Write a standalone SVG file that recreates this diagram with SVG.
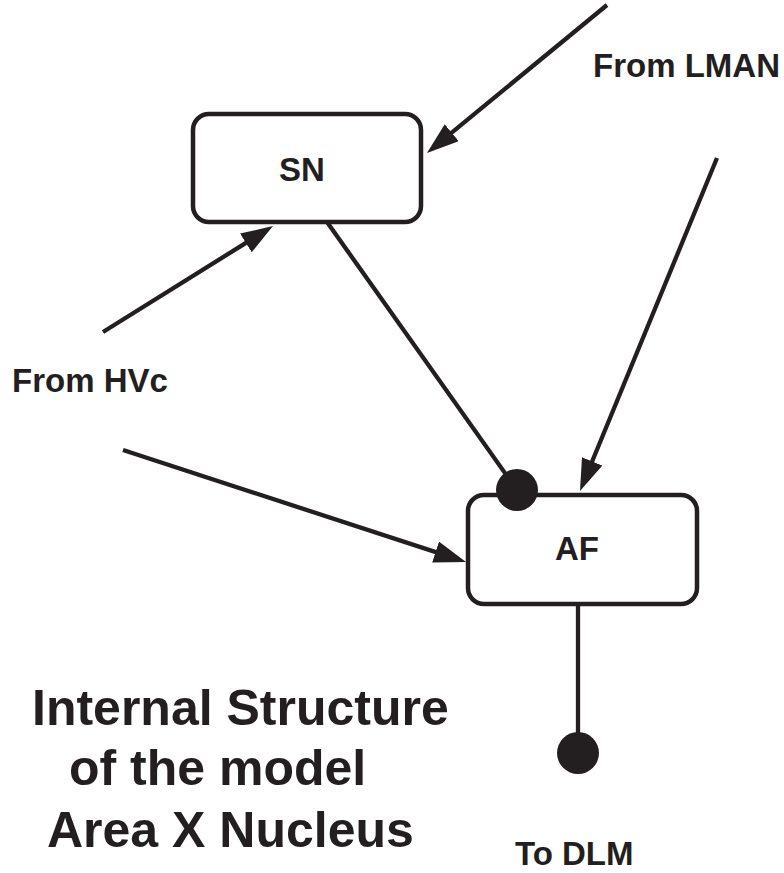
<svg xmlns="http://www.w3.org/2000/svg" width="784" height="873" viewBox="0 0 784 873">
<style>
.box{fill:#fff;stroke:#231f20;stroke-width:4.5}
.ln{stroke:#231f20;stroke-width:4.3;fill:none}
.lbl{font-family:"Liberation Sans",Arial,sans-serif;font-weight:bold;font-size:33px;fill:#231f20}
.title{font-family:"Liberation Sans",Arial,sans-serif;font-weight:bold;font-size:50px;fill:#231f20}
.dot{fill:#231f20}
</style>
<defs>
<marker id="arr" markerUnits="userSpaceOnUse" markerWidth="32" markerHeight="22" refX="22" refY="11" orient="auto" viewBox="0 0 32 22">
<path d="M0,0 L32,11 L0,22 z" fill="#231f20"/>
</marker>
</defs>
<g id="connectors">
<line class="ln" x1="607" y1="5" x2="434.7" y2="146.6" marker-end="url(#arr)"/>
<line class="ln" x1="103" y1="332" x2="264.5" y2="231.3" marker-end="url(#arr)"/>
<line class="ln" x1="717" y1="158" x2="583.8" y2="481.7" marker-end="url(#arr)"/>
<line class="ln" x1="123" y1="450" x2="456.5" y2="558.9" marker-end="url(#arr)"/>
<line class="ln" x1="327" y1="222" x2="517" y2="490"/>
<line class="ln" x1="578" y1="604" x2="578" y2="753"/>
</g>
<g id="SN">
<rect class="box" x="193" y="114" width="228" height="108" rx="16"/>
<text class="lbl" x="302" y="181" text-anchor="middle">SN</text>
</g>
<g id="AF">
<rect class="box" x="468" y="495" width="229" height="109" rx="16"/>
<text class="lbl" x="577" y="560" text-anchor="middle">AF</text>
</g>
<g id="dots">
<circle class="dot" cx="517" cy="490" r="21"/>
<circle class="dot" cx="578" cy="753" r="21"/>
</g>
<g id="labels">
<text class="lbl" x="593" y="77">From LMAN</text>
<text class="lbl" x="12" y="392">From HVc</text>
<text class="lbl" x="515" y="865">To DLM</text>
<text class="title" x="32" y="725">Internal Structure</text>
<text class="title" x="69" y="785">of the model</text>
<text class="title" x="47" y="847">Area X Nucleus</text>
</g>
</svg>
